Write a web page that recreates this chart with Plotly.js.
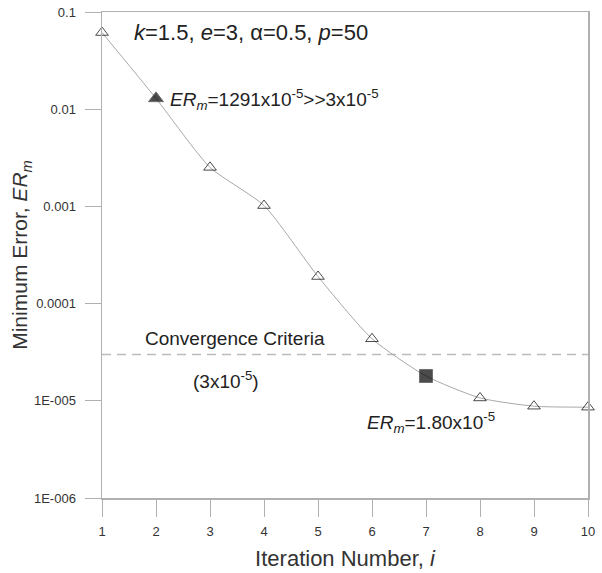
<!DOCTYPE html>
<html><head><meta charset="utf-8">
<script src="https://cdn.plot.ly/plotly-3.0.1.min.js"></script>
<style>body{margin:0;background:#fff}#c{width:602px;height:573px}</style>
</head><body><div id="c"></div>
<script>
const iterations = [1,2,3,4,5,6,7,8,9,10];
const minError = [0.0615, 0.01291, 0.00252, 0.00102, 0.00019, 0.0000435, 0.000018, 0.0000107, 0.0000088, 0.0000086];
const criteria = 3e-5;
const yTickVals = [0.1, 0.01, 0.001, 0.0001, 1e-5, 1e-6];
const yTickText = ['0.1','0.01','0.001','0.0001','1E-005','1E-006'];
const highlightTriangle = 2, highlightSquare = 7;

const symbols = iterations.map(i => i===highlightTriangle ? 'triangle-up' : (i===highlightSquare ? 'square' : 'triangle-up-open'));
const sizes = iterations.map(i => (i===highlightTriangle||i===highlightSquare) ? 13 : 11);

// unlabelled minor tick positions (2..9 in each decade)
const minorVals = [];
for (let d=-6; d<-1; d++) for (let m=2; m<=9; m++) minorVals.push(m*Math.pow(10,d));

const W = 602, H = 573, ML = 102, MR = 14, MT = 12, MB = 75;
const xRange = [1,10];
const minorLen = 9;
// place minor tick glyphs just outside the left axis line
const pxPerUnit = (W-ML-MR)/(xRange[1]-xRange[0]);
const minorX = minorVals.map(() => xRange[0] - (minorLen/2)/pxPerUnit);

const font = 'Liberation Sans, Arial, sans-serif';
const axCol = '#b0b0b0';
const data = [
  {x:[iterations[0], iterations[iterations.length-1]], y:[criteria, criteria], mode:'lines',
   line:{color:'#bbbbbb', width:1.5, dash:'9px,6px'}, hoverinfo:'skip'},
  {x:iterations, y:minError, mode:'lines+markers', cliponaxis:false,
   line:{color:'#a8a8a8', width:1, shape:'spline', smoothing:0.6},
   marker:{symbol:symbols, size:sizes, color:'#000', line:{color:'#333', width:1}}},
  {x:minorX, y:minorVals, mode:'markers', cliponaxis:false, hoverinfo:'skip',
   marker:{symbol:'line-ew', size:minorLen, color:axCol, line:{color:axCol, width:1}}}
];
const layout = {
  width:W, height:H, showlegend:false,
  paper_bgcolor:'#fff', plot_bgcolor:'#fff',
  margin:{l:ML, r:MR, t:MT, b:MB},
  font:{family:font, color:'#222'},
  xaxis:{range:xRange, tickvals:iterations, ticks:'outside', ticklen:17, tickcolor:axCol, tickwidth:1,
    showline:true, linecolor:axCol, linewidth:1.5, mirror:true, showgrid:false, zeroline:false,
    tickfont:{size:13, color:'#333'}, ticklabelstandoff:4,
    title:{text:'Iteration Number, <i>i</i>', font:{size:22, color:'#333'}, standoff:12}},
  yaxis:{type:'log', range:[-6,-1], tickmode:'array', tickvals:yTickVals, ticktext:yTickText, ticks:'outside', ticklen:16,
    tickcolor:axCol, tickwidth:1, showline:true, linecolor:axCol, linewidth:1.5, mirror:true, showgrid:false,
    tickfont:{size:13, color:'#333'}, ticklabelstandoff:6,
    title:{text:'Minimum Error, <i>ER<sub>m</sub></i>', font:{size:21, color:'#333'}, standoff:0}},
  annotations:[
    {xref:'paper', yref:'paper', x:0.062, y:0.957, xanchor:'left', yanchor:'middle', showarrow:false,
     text:'<i>k</i>=1.5, <i>e</i>=3, α=0.5, <i>p</i>=50', font:{size:22, color:'#222'}},
    {x:2.22, y:-1.905, xanchor:'left', yanchor:'middle', showarrow:false,
     text:'<i>ER<sub>m</sub></i>=1291x10<sup>-5</sup>>>3x10<sup>-5</sup>', font:{size:19, color:'#222'}},
    {x:1.76, y:-4.354, xanchor:'left', yanchor:'middle', showarrow:false,
     text:'Convergence Criteria', font:{size:19, color:'#222'}},
    {x:2.65, y:-4.786, xanchor:'left', yanchor:'middle', showarrow:false,
     text:'(3x10<sup>-5</sup>)', font:{size:19, color:'#222'}},
    {x:5.87, y:-5.228, xanchor:'left', yanchor:'middle', showarrow:false,
     text:'<i>ER<sub>m</sub></i>=1.80x10<sup>-5</sup>', font:{size:19, color:'#222'}}
  ]
};
Plotly.newPlot('c', data, layout, {displayModeBar:false, staticPlot:true});
</script></body></html>
